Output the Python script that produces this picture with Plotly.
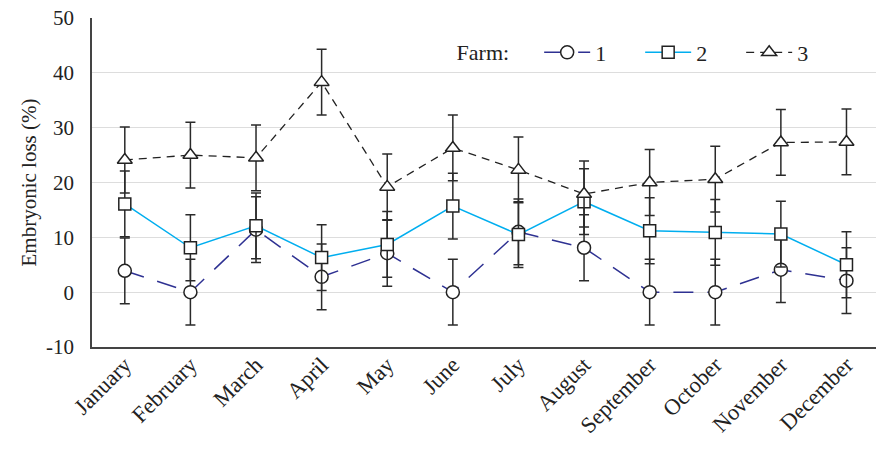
import plotly.graph_objects as go

months = ["January", "February", "March", "April", "May", "June", "July",
          "August", "September", "October", "November", "December"]
farm1 = [3.9, 0.0, 11.4, 2.8, 7.1, 0.0, 11.0, 8.1, 0.0, 0.0, 4.1, 2.1]
farm2 = [16.1, 8.1, 12.1, 6.3, 8.7, 15.7, 10.5, 16.5, 11.2, 10.9, 10.6, 5.0]
farm3 = [24.1, 25.0, 24.5, 38.3, 19.2, 26.3, 22.3, 17.9, 20.0, 20.6, 27.3, 27.4]
err1 = [6.0] * 12
err2 = [6.0] * 12
err3 = [6.0] * 12
names = ["1", "2", "3"]
ytick_vals = [-10, 0, 10, 20, 30, 40, 50]
ytick_text = ["-10", "0", "10", "20", "30", "40", "50"]

FONT = "Liberation Serif"
FS = 21
ERR = dict(type="data", visible=True, color="#2a2a2a", thickness=1.5, width=5)

fig = go.Figure()
fig.add_trace(go.Scatter(
    x=months, y=farm1, name=names[0], mode="lines+markers",
    line=dict(color="#2e3192", width=1.5, dash="20px,14px"),
    marker=dict(symbol="circle", size=13, color="white",
                line=dict(color="#222222", width=1.5)),
    error_y=dict(array=err1, **ERR)))
fig.add_trace(go.Scatter(
    x=months, y=farm2, name=names[1], mode="lines+markers",
    line=dict(color="#00aeef", width=1.5),
    marker=dict(symbol="square", size=12, color="white",
                line=dict(color="#222222", width=1.5)),
    error_y=dict(array=err2, **ERR)))
fig.add_trace(go.Scatter(
    x=months, y=farm3, name=names[2], mode="lines+markers",
    line=dict(color="#222222", width=1.3, dash="8px,6px"),
    marker=dict(symbol="triangle-up", size=13, color="white",
                line=dict(color="#222222", width=1.5)),
    error_y=dict(array=err3, **ERR)))

fig.update_layout(
    width=876, height=450,
    margin=dict(l=92, r=0, t=17.5, b=102.5, autoexpand=False),
    paper_bgcolor="white", plot_bgcolor="white",
    font=dict(family=FONT, size=FS, color="#222222"),
    showlegend=True,
    legend=dict(
        orientation="h", x=0.4625, y=0.895, xanchor="left", yanchor="middle",
        title=dict(text="Farm:    ", side="left", font=dict(size=22)),
        font=dict(size=22), itemwidth=46, entrywidth=40,
        bgcolor="rgba(0,0,0,0)", traceorder="normal"),
    xaxis=dict(
        range=[-0.5, 11.45], tickangle=-45, showgrid=False, automargin=False,
        showline=True, linecolor="#444444", linewidth=1.5,
        ticks="", tickfont=dict(size=22.5), ticklabelstandoff=-6,
        ticklabeloverflow="allow"),
    yaxis=dict(
        range=[-10, 50], tickvals=ytick_vals, ticktext=ytick_text,
        automargin=False, ticklabeloverflow="allow",
        showgrid=True, gridcolor="#dddddd", gridwidth=1,
        zeroline=True, zerolinecolor="#dddddd", zerolinewidth=1,
        showline=True, linecolor="#444444", linewidth=1.5,
        ticks="", tickfont=dict(size=FS), ticklabelstandoff=12,
        title=dict(text="Embryonic loss (%)", font=dict(size=FS), standoff=4)),
)

fig.write_html("out.html",
               config={"displayModeBar": False},
               post_script="document.body.style.margin='0px';")
